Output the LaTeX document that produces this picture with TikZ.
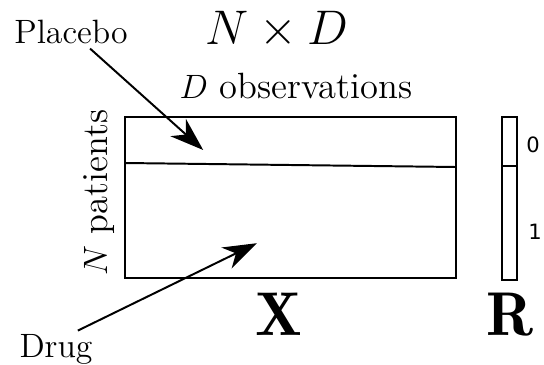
\documentclass[tikz,border=0pt]{standalone}
\usepackage{fontspec}
\newfontfamily\digitfont{DejaVu Sans}
\usetikzlibrary{arrows.meta}

\begin{document}
\begin{tikzpicture}[
  label/.style={font=\large,inner sep=1pt,anchor=base},
  sidelabel/.style={font=\fontsize{13}{16}\selectfont,inner sep=1pt,anchor=base},
  bigtitle/.style={font=\LARGE,inner sep=1pt,anchor=base},
  matname/.style={font=\fontsize{22}{26}\selectfont,inner sep=1pt,anchor=base},
  digit/.style={font=\digitfont\fontsize{7.5}{9}\selectfont,inner sep=1pt},
  block/.style={draw,line width=1pt},
  divider/.style={line width=.7pt},
  pointer/.style={-{Stealth[length=4.2mm,width=2.9mm,inset=1.3mm]},line width=.7pt}
]
\useasboundingbox (0,0) rectangle (6.8,4.55);

\node[bigtitle] (size) at (3.46,4.0) {$N\times D$};
\node[sidelabel] (obs) at (3.7,3.325) {$D$ observations};
\node[sidelabel,rotate=90] (pat) at (1.34,2.14) {$N$ patients};

% data matrix
\draw[block] (1.5625,1.075) rectangle (5.7,3.0875);
\coordinate (xl) at (1.5625,2.5125);
\coordinate (xr) at (5.7,2.4625);
\draw[divider] (xl) -- (xr);
\node[matname] (x) at (3.49,.3625) {$\mathbf{X}$};

% response vector
\draw[block] (6.275,1.05) rectangle (6.4625,3.0875);
\coordinate (rl) at (6.275,2.475);
\coordinate (rr) at (6.4625,2.475);
\draw[divider] (rl) -- (rr);
\node[matname] (r) at (6.375,.3625) {$\mathbf{R}$};
\node[digit] (zero) at (6.6625,2.7375) {0};
\node[digit] (one) at (6.6875,1.65) {1};

% group labels
\node[label] (placebo) at (.8875,4.0125) {Placebo};
\coordinate (ptip) at (2.54,2.675);
\draw[pointer,shorten <=1pt] (placebo) -- (ptip);
\node[label] (drug) at (.7,.0875) {Drug};
\coordinate (dtip) at (3.21,1.51);
\draw[pointer] (drug.40) -- (dtip);
\end{tikzpicture}
\end{document}
